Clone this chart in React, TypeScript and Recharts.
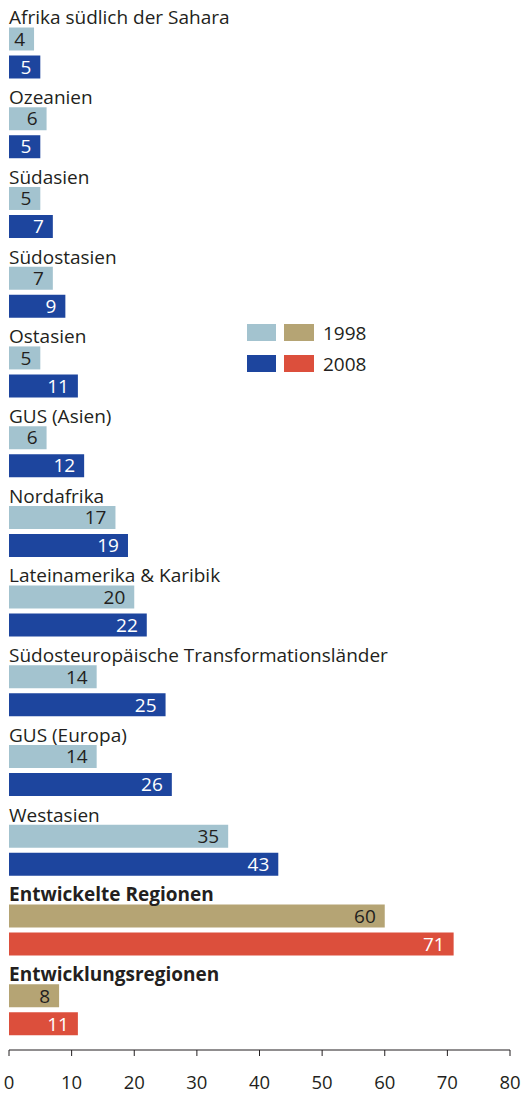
import { BarChart, Bar, XAxis, YAxis, Cell, LabelList } from "recharts"

const regions = [
  "Afrika südlich der Sahara",
  "Ozeanien",
  "Südasien",
  "Südostasien",
  "Ostasien",
  "GUS (Asien)",
  "Nordafrika",
  "Lateinamerika & Karibik",
  "Südosteuropäische Transformationsländer",
  "GUS (Europa)",
  "Westasien",
  "Entwickelte Regionen",
  "Entwicklungsregionen",
]
const values1998 = [4, 6, 5, 7, 5, 6, 17, 20, 14, 14, 35, 60, 8]
const values2008 = [5, 5, 7, 9, 11, 12, 19, 22, 25, 26, 43, 71, 11]
const summaryRegions = ["Entwickelte Regionen", "Entwicklungsregionen"]
const xTicks = [0, 10, 20, 30, 40, 50, 60, 70, 80]

const FONT = "'Open Sans', 'Noto Sans', sans-serif"
const TEXT = "#231f20"
const light = { sub: "#a3c3cf", total: "#b5a474" }
const dark = { sub: "#1d459e", total: "#dc4f3c" }

const data = regions.map((name, i) => ({
  name,
  y1998: values1998[i],
  y2008: values2008[i],
  summary: summaryRegions.includes(name),
}))

// region name sits above its pair of bars, flush with the plot's left edge
function RegionTick(props: any) {
  const { y, payload } = props
  const bold = summaryRegions.includes(payload.value)
  return (
    <text
      x={9}
      y={y - 29}
      fill={TEXT}
      fontSize={19}
      fontFamily={FONT}
      fontWeight={bold ? 700 : 400}
      textAnchor="start"
    >
      {payload.value}
    </text>
  )
}

function LegendBox() {
  const row = (c1: string, c2: string, label: string) => (
    <div style={{ display: "flex", alignItems: "center", height: 17, marginBottom: 14 }}>
      <div style={{ width: 29, height: 17, background: c1 }} />
      <div style={{ width: 30, height: 17, background: c2, marginLeft: 8 }} />
      <span style={{ marginLeft: 9, fontSize: 19, color: TEXT, fontFamily: FONT }}>{label}</span>
    </div>
  )
  return (
    <div style={{ position: "absolute", left: 247, top: 324 }}>
      {row(light.sub, light.total, "1998")}
      {row(dark.sub, dark.total, "2008")}
    </div>
  )
}

export default function App() {
  return (
    <div style={{ position: "absolute", left: 0, top: 0, width: 527, height: 1093, background: "#fff" }}>
      <BarChart
        width={527}
        height={1093}
        data={data}
        layout="vertical"
        margin={{ top: 13.5, right: 17, bottom: 13, left: 8 }}
        barSize={23}
        barGap={5}
      >
        <XAxis
          type="number"
          domain={[0, 80]}
          ticks={xTicks}
          interval={0}
          height={30}
          stroke={TEXT}
          tickSize={6}
          tickMargin={20}
          tick={{ fill: TEXT, fontSize: 18.5, fontFamily: FONT }}
        />
        <YAxis
          type="category"
          dataKey="name"
          width={1}
          axisLine={false}
          tickLine={false}
          interval={0}
          tick={(p: any) => <RegionTick {...p} />}
        />
        <Bar dataKey="y1998" name="1998" isAnimationActive={false}>
          {data.map((d) => (
            <Cell key={d.name} fill={d.summary ? light.total : light.sub} />
          ))}
          <LabelList
            dataKey="y1998"
            position="insideRight"
            offset={9}
            fill={TEXT}
            fontSize={19}
            fontFamily={FONT}
          />
        </Bar>
        <Bar dataKey="y2008" name="2008" isAnimationActive={false}>
          {data.map((d) => (
            <Cell key={d.name} fill={d.summary ? dark.total : dark.sub} />
          ))}
          <LabelList
            dataKey="y2008"
            position="insideRight"
            offset={9}
            fill="#ffffff"
            fontSize={19}
            fontFamily={FONT}
          />
        </Bar>
      </BarChart>
      <LegendBox />
    </div>
  )
}
